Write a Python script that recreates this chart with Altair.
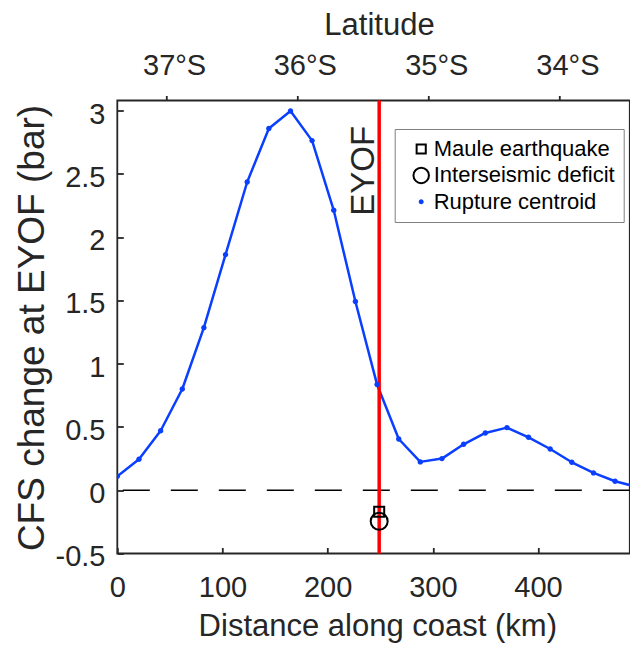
import altair as alt
import pandas as pd

# ---- data ----
DIST_KM = [0, 20.6, 41.2, 61.8, 82.3, 102.9, 123.5, 144.1, 164.7, 185.2, 205.8,
           226.4, 247.0, 267.6, 288.1, 308.7, 329.3, 349.9, 370.5, 391.0, 411.6,
           432.2, 452.8, 473.3, 494.0]
CFS_BAR = [0.11, 0.245, 0.47, 0.80, 1.285, 1.862, 2.436, 2.858, 2.997, 2.763, 2.212,
           1.492, 0.835, 0.405, 0.224, 0.25, 0.363, 0.453, 0.495, 0.418, 0.326,
           0.221, 0.137, 0.071, 0.026]
EYOF_KM = 249
MAULE_BAR = -0.17
INTERSEISMIC_BAR = -0.245
EYOF_LABEL_BAR = 2.17
SERIES = ["Maule earthquake", "Interseismic deficit", "Rupture centroid"]
X_TICKS = [0, 100, 200, 300, 400]
Y_TICKS = [-0.5, 0, 0.5, 1, 1.5, 2, 2.5, 3]
LAT_TICKS = [37, 36, 35, 34]
LAT_TICK_KM = [46.4, 170.7, 295.7, 420.4]

FONT = "Liberation Sans"
AXC = "#262626"
BLUE = "#0a3fff"

line_df = pd.DataFrame({"dist": DIST_KM, "cfs": CFS_BAR})
pts_df = pd.DataFrame({
    "dist": [EYOF_KM, EYOF_KM] + DIST_KM,
    "cfs": [MAULE_BAR, INTERSEISMIC_BAR] + CFS_BAR,
    "series": [SERIES[0], SERIES[1]] + [SERIES[2]] * len(DIST_KM),
})
eyof_df = pd.DataFrame({"dist": [EYOF_KM]})
zero_df = pd.DataFrame({"cfs": [0]})
label_df = pd.DataFrame({"dist": [EYOF_KM], "cfs": [EYOF_LABEL_BAR], "txt": ["EYOF"]})

xscale = alt.Scale(domain=[0, 487.3], nice=False, zero=False)
yscale = alt.Scale(domain=[-0.5, 3.08], nice=False, zero=False)

lat_expr = " : ".join(
    f"datum.value == {km} ? '{lat}°S'" for km, lat in zip(LAT_TICK_KM, LAT_TICKS)
) + " : ''"

x_label_axis = alt.Axis(
    orient="bottom", values=X_TICKS, ticks=False, tickSize=0, domain=False, grid=False,
    labelPadding=43.2, labelBaseline="alphabetic", labelFontSize=29,
    labelFlush=False, labelOverlap=False,
    title="Distance along coast (km)", titleFontSize=31, titleX=260, titleY=82,
    titleBaseline="alphabetic", titleAlign="center",
)
x_tick_axis = alt.Axis(
    orient="bottom", values=X_TICKS, labels=False, ticks=True, tickSize=6,
    tickWidth=1.8, tickColor=AXC, domain=False, grid=False, offset=-6, title=None,
)
y_label_axis = alt.Axis(
    orient="left", values=Y_TICKS, ticks=False, tickSize=0, domain=False, grid=False,
    labelPadding=12.3, labelAlign="right", labelBaseline="alphabetic", labelOffset=12.4,
    labelFontSize=29, labelFlush=False, labelOverlap=False,
    labelExpr="datum.value + ''",
    title="CFS change at EYOF (bar)", titleFontSize=37, titleAngle=270,
    titleX=-74, titleY=227, titleAlign="center", titleBaseline="alphabetic",
)
y_tick_axis = alt.Axis(
    orient="left", values=Y_TICKS, labels=False, ticks=True, tickSize=6,
    tickWidth=1.8, tickColor=AXC, domain=False, grid=False, offset=-6, title=None,
)
top_axis = alt.Axis(
    orient="top", values=LAT_TICK_KM, ticks=True, tickSize=5, tickWidth=1.8,
    tickColor=AXC, domain=False, grid=False,
    labelPadding=21, labelBaseline="alphabetic", labelOffset=8, labelFontSize=29,
    labelFlush=False, labelOverlap=False, labelExpr=lat_expr,
    title="Latitude", titleFontSize=31, titleX=261.7, titleY=-66,
    titleBaseline="alphabetic", titleAlign="center",
)

legend = alt.Legend(
    title=None, orient="none", legendX=277.4, legendY=28.5, direction="vertical",
    padding=9, fillColor="white", strokeColor="#7f7f7f",
    labelFontSize=22, labelFont=FONT, labelColor="#000000", labelLimit=400,
    labelOffset=1.5, symbolOffset=6.5, rowPadding=3.4, symbolSize=240,
    symbolStrokeWidth=2,
)

SQUARE = "M-0.59,-0.59H0.59V0.59H-0.59Z"
CIRCLE = "M1,0A1,1,0,1,1,-1,0A1,1,0,1,1,1,0Z"
DOT = "M0.32,0A0.32,0.32,0,1,1,-0.32,0A0.32,0.32,0,1,1,0.32,0Z"

zero_rule = alt.Chart(zero_df).mark_rule(
    color="black", strokeWidth=1.6, strokeDash=[27, 21]
).encode(y=alt.Y("cfs:Q", scale=yscale, axis=None))

line = alt.Chart(line_df).mark_line(
    color=BLUE, strokeWidth=2.5, strokeJoin="round", clip=True
).encode(
    x=alt.X("dist:Q", scale=xscale, axis=x_label_axis),
    y=alt.Y("cfs:Q", scale=yscale, axis=y_label_axis),
)

red = alt.Chart(eyof_df).mark_rule(color="#ff0000", strokeWidth=3.5).encode(
    x=alt.X("dist:Q", scale=xscale, axis=top_axis)
)

pts = alt.Chart(pts_df).mark_point(size=289, strokeWidth=2, opacity=1, clip=True).encode(
    x=alt.X("dist:Q", scale=xscale, axis=x_tick_axis),
    y=alt.Y("cfs:Q", scale=yscale, axis=y_tick_axis),
    shape=alt.Shape("series:N", scale=alt.Scale(domain=SERIES, range=[SQUARE, CIRCLE, DOT]), legend=legend),
    stroke=alt.Stroke("series:N", scale=alt.Scale(domain=SERIES, range=["#000000", "#000000", "transparent"]), legend=legend),
    fill=alt.Fill("series:N", scale=alt.Scale(domain=SERIES, range=["transparent", "transparent", BLUE]), legend=legend),
)

text = alt.Chart(label_df).mark_text(
    angle=270, align="left", baseline="alphabetic", dy=-5.3,
    fontSize=33, font=FONT, color=AXC,
).encode(
    x=alt.X("dist:Q", scale=xscale, axis=None),
    y=alt.Y("cfs:Q", scale=yscale, axis=None),
    text="txt:N",
)

chart = alt.layer(zero_rule, line, red, pts, text).resolve_scale(
    x="shared", y="shared"
).resolve_axis(
    x="independent", y="independent"
).properties(
    width=512.5, height=453,
    padding={"left": 109.3, "top": 92.5, "right": 0.2, "bottom": 90.5},
    autosize=alt.AutoSizeParams(type="none"),
).configure_view(
    stroke=AXC, strokeWidth=1.8
).configure_axis(
    labelColor=AXC, titleColor=AXC, labelFont=FONT, titleFont=FONT,
    titleFontWeight="normal", labelFontWeight="normal",
)

chart.save("out.html", embed_options={"renderer": "svg", "actions": False})
